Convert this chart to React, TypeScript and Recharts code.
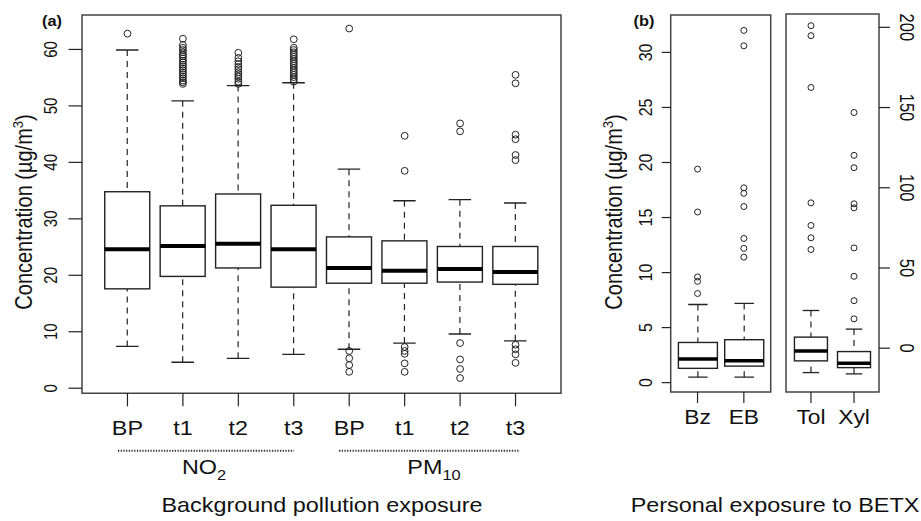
import React from "react"
import {
  Bar,
  ComposedChart,
  ReferenceArea,
  Scatter,
  XAxis,
  YAxis,
} from "recharts"

// Panel (a): background pollution exposure
const panelACategories = ["BP", "t1", "t2", "t3", "BP", "t1", "t2", "t3"]
const panelALow = [7.4, 4.6, 5.3, 6.0, 6.9, 8.0, 9.6, 8.4]
const panelAQ1 = [17.6, 19.8, 21.3, 17.9, 18.6, 18.6, 18.8, 18.4]
const panelAMedian = [24.6, 25.2, 25.6, 24.6, 21.3, 20.8, 21.1, 20.6]
const panelAQ3 = [34.8, 32.3, 34.4, 32.4, 26.8, 26.1, 25.1, 25.1]
const panelAHigh = [59.9, 50.9, 53.6, 54.1, 38.8, 33.2, 33.4, 32.8]
const panelAOutliers = [
  [62.8],
  [61.9, 60.8, 60.3, 59.9, 59.5, 59.1, 58.8, 58.4, 58.0, 57.7, 57.3, 57.0, 56.6, 56.3, 55.9, 55.6, 55.2, 54.9, 54.5, 54.2, 53.9],
  [59.4, 58.5, 57.9, 57.4, 56.9, 56.5, 56.0, 55.6, 55.2, 54.8, 54.3, 53.9],
  [61.8, 60.3, 59.9, 59.5, 59.1, 58.7, 58.3, 57.9, 57.5, 57.1, 56.7, 56.3, 55.9, 55.5, 55.1, 54.7, 54.3],
  [63.7, 6.6, 5.3, 4.1, 2.9],
  [44.7, 38.5, 7.3, 6.6, 6.1, 4.4, 2.9],
  [46.9, 45.5, 8.0, 5.1, 3.4, 1.8],
  [55.5, 54.0, 44.9, 44.1, 41.3, 40.4, 7.7, 6.9, 6.0, 4.5],
]
const panelATicks = [0, 10, 20, 30, 40, 50, 60]

// Panel (b): personal exposure to BETX, left scale
const betxLeftCategories = ["Bz", "EB"]
const betxLeftLow = [0.5, 0.5]
const betxLeftQ1 = [1.3, 1.5]
const betxLeftMedian = [2.15, 2.0]
const betxLeftQ3 = [3.65, 3.9]
const betxLeftHigh = [7.1, 7.2]
const betxLeftOutliers = [
  [19.4, 15.5, 9.6, 9.2, 8.1],
  [32.0, 30.6, 17.7, 17.2, 16.0, 13.1, 12.2, 11.4],
]
const betxLeftTicks = [0, 5, 10, 15, 20, 25, 30]

// Panel (b): right scale
const betxRightCategories = ["Tol", "Xyl"]
const betxRightLow = [-15.2, -16.0]
const betxRightQ1 = [-7.9, -12.1]
const betxRightMedian = [-1.7, -9.4]
const betxRightQ3 = [6.9, -2.1]
const betxRightHigh = [23.5, 11.9]
const betxRightOutliers = [
  [201, 194.8, 162.5, 90.6, 76.5, 68.8, 61.5],
  [146.9, 120.2, 112.5, 90.0, 87.5, 62.5, 44.8, 29.6, 18.3],
]
const betxRightTicks = [0, 50, 100, 150, 200]

const FONT = '"Liberation Sans", Arial, sans-serif'
const SX = 1.17 // the figure is slightly stretched horizontally
const INK = "#222"

function buildRows(names: string[], lo: number[], q1: number[], med: number[], q3: number[], hi: number[]) {
  return names.map((name, i) => ({
    pos: i + 1,
    name,
    lo: lo[i],
    q1: q1[i],
    med: med[i],
    q3: q3[i],
    hi: hi[i],
    range: [lo[i], hi[i]],
  }))
}

function buildOutliers(lists: number[][]) {
  return lists.flatMap((vals, i) => vals.map((v) => ({ pos: i + 1, v })))
}

const panelARows = buildRows(panelACategories, panelALow, panelAQ1, panelAMedian, panelAQ3, panelAHigh)
const panelAPoints = buildOutliers(panelAOutliers)
const betxLeftRows = buildRows(betxLeftCategories, betxLeftLow, betxLeftQ1, betxLeftMedian, betxLeftQ3, betxLeftHigh)
const betxLeftPoints = buildOutliers(betxLeftOutliers)
const betxRightRows = buildRows(betxRightCategories, betxRightLow, betxRightQ1, betxRightMedian, betxRightQ3, betxRightHigh)
const betxRightPoints = buildOutliers(betxRightOutliers)

function SText({ x, y, size, rotate = 0, weight, anchor = "middle", children }: any) {
  return (
    <text
      transform={`translate(${x},${y}) scale(${SX},1)${rotate ? ` rotate(${rotate})` : ""}`}
      textAnchor={anchor}
      fontSize={size}
      fontFamily={FONT}
      fontWeight={weight}
      fill="#111"
    >
      {children}
    </text>
  )
}

// box + whiskers, positioned inside the [lo, hi] bar the library lays out
function makeBoxShape(medianWidth: number) {
  return (props: any) => {
    const { x, y, width, height, payload } = props
    const top = Math.min(y, y + height)
    const bot = Math.max(y, y + height)
    const { lo, hi, q1, med, q3 } = payload
    const py = (v: number) => bot - ((v - lo) / (hi - lo)) * (bot - top)
    const cx = x + width / 2
    const cap = width / 4
    return (
      <g>
        <line x1={cx} x2={cx} y1={py(hi)} y2={py(q3)} stroke={INK} strokeWidth={1.2} strokeDasharray="6 5" />
        <line x1={cx} x2={cx} y1={py(lo)} y2={py(q1)} stroke={INK} strokeWidth={1.2} strokeDasharray="6 5" />
        <line x1={cx - cap} x2={cx + cap} y1={py(hi)} y2={py(hi)} stroke={INK} strokeWidth={1.3} />
        <line x1={cx - cap} x2={cx + cap} y1={py(lo)} y2={py(lo)} stroke={INK} strokeWidth={1.3} />
        <rect x={x} y={py(q3)} width={width} height={py(q1) - py(q3)} fill="#fff" stroke={INK} strokeWidth={1.4} />
        <line x1={x} x2={x + width} y1={py(med)} y2={py(med)} stroke="#000" strokeWidth={medianWidth} />
      </g>
    )
  }
}

function makeCircle(r: number) {
  return (props: any) => (
    <circle cx={props.cx} cy={props.cy} r={r} fill="none" stroke={INK} strokeWidth={1} />
  )
}

function makeXTick(names: string[], dy: number, size: number) {
  return (props: any) => {
    const { x, y, payload } = props
    return (
      <SText x={x} y={y + dy} size={size}>
        {names[payload.value - 1]}
      </SText>
    )
  }
}

function makeYTick(dx: number, size: number, rotate: number) {
  return (props: any) => {
    const { x, y, payload } = props
    return (
      <SText x={x + dx} y={y} size={size} rotate={rotate}>
        {payload.value}
      </SText>
    )
  }
}

function BoxPanel({ rows, points, names, left, width, margin, xDomain, yDomain, ticks, barSize, medianWidth, radius, yWidth, orientation, tickSize, yTick, xTickSize, xDy, xSize }: any) {
  return (
    <div style={{ position: "absolute", left, top: 0 }}>
      <ComposedChart width={width} height={521} data={rows} margin={margin}>
        <XAxis
          type="number"
          dataKey="pos"
          domain={xDomain}
          ticks={rows.map((r: any) => r.pos)}
          allowDataOverflow
          axisLine={false}
          tickSize={xTickSize}
          tickMargin={0}
          tickLine={{ stroke: INK, strokeWidth: 1.2 }}
          tick={makeXTick(names, xDy, xSize)}
          height={40}
          interval={0}
        />
        <YAxis
          type="number"
          orientation={orientation}
          domain={yDomain}
          ticks={ticks}
          allowDataOverflow
          axisLine={false}
          tickSize={tickSize}
          tickMargin={0}
          tickLine={{ stroke: INK, strokeWidth: 1.2 }}
          tick={yTick}
          width={yWidth}
          interval={0}
        />
        <ReferenceArea
          x1={xDomain[0]}
          x2={xDomain[1]}
          y1={yDomain[0]}
          y2={yDomain[1]}
          fill="none"
          fillOpacity={0}
          stroke="#444"
          strokeWidth={1.5}
          ifOverflow="visible"
        />
        <Bar dataKey="range" barSize={barSize} shape={makeBoxShape(medianWidth)} isAnimationActive={false} />
        <Scatter data={points} dataKey="v" shape={makeCircle(radius)} isAnimationActive={false} />
      </ComposedChart>
    </div>
  )
}

export default function App() {
  return (
    <div style={{ position: "absolute", left: 0, top: 0, width: 921, height: 521, background: "#fff", fontFamily: FONT }}>
      <BoxPanel
        rows={panelARows}
        points={panelAPoints}
        names={panelACategories}
        left={0}
        width={575}
        margin={{ top: 15, right: 14, bottom: 87.7, left: 0 }}
        xDomain={[0.18, 8.82]}
        yDomain={[-0.9, 66.1]}
        ticks={panelATicks}
        barSize={45}
        medianWidth={4}
        radius={3.4}
        yWidth={82}
        orientation="left"
        tickSize={13.5}
        yTick={makeYTick(-11.5, 15, -90)}
        xTickSize={13}
        xDy={28.7}
        xSize={20}
      />
      <BoxPanel
        rows={betxLeftRows}
        points={betxLeftPoints}
        names={betxLeftCategories}
        left={600}
        width={180}
        margin={{ top: 15, right: 9.3, bottom: 89, left: 0 }}
        xDomain={[0.42, 2.58]}
        yDomain={[-0.85, 33.4]}
        ticks={betxLeftTicks}
        barSize={39}
        medianWidth={3.5}
        radius={3}
        yWidth={70.7}
        orientation="left"
        tickSize={9}
        yTick={makeYTick(-10, 16, -90)}
        xTickSize={11}
        xDy={21}
        xSize={19.5}
      />
      <BoxPanel
        rows={betxRightRows}
        points={betxRightPoints}
        names={betxRightCategories}
        left={780}
        width={141}
        margin={{ top: 14, right: 0, bottom: 89, left: 6 }}
        xDomain={[0.42, 2.58]}
        yDomain={[-27.3, 208.3]}
        ticks={betxRightTicks}
        barSize={33}
        medianWidth={3.5}
        radius={3}
        yWidth={42}
        orientation="right"
        tickSize={11}
        yTick={makeYTick(10, 16.5, 90)}
        xTickSize={11}
        xDy={21}
        xSize={19.5}
      />
      <svg width={921} height={521} style={{ position: "absolute", left: 0, top: 0, pointerEvents: "none" }}>
        <SText x={52} y={26} size={14} weight="bold">(a)</SText>
        <SText x={644} y={26} size={14} weight="bold">(b)</SText>
        <SText x={32} y={212} size={20} rotate={-90}>
          Concentration (µg/m<tspan dy={-8} fontSize={13}>3</tspan><tspan dy={8}>)</tspan>
        </SText>
        <SText x={622} y={212} size={20} rotate={-90}>
          Concentration (µg/m<tspan dy={-8} fontSize={13}>3</tspan><tspan dy={8}>)</tspan>
        </SText>
        <line x1={118} x2={294} y1={450.7} y2={450.7} stroke="#333" strokeWidth={2} strokeDasharray="1.3 1.4" />
        <line x1={339} x2={520} y1={450.7} y2={450.7} stroke="#333" strokeWidth={2} strokeDasharray="1.3 1.4" />
        <SText x={204} y={474} size={20}>
          NO<tspan dy={6} fontSize={14}>2</tspan>
        </SText>
        <SText x={434} y={474} size={20}>
          PM<tspan dy={6} fontSize={14}>10</tspan>
        </SText>
        <SText x={322} y={512} size={20}>Background pollution exposure</SText>
        <SText x={775} y={512} size={20}>Personal exposure to BETX</SText>
      </svg>
    </div>
  )
}
